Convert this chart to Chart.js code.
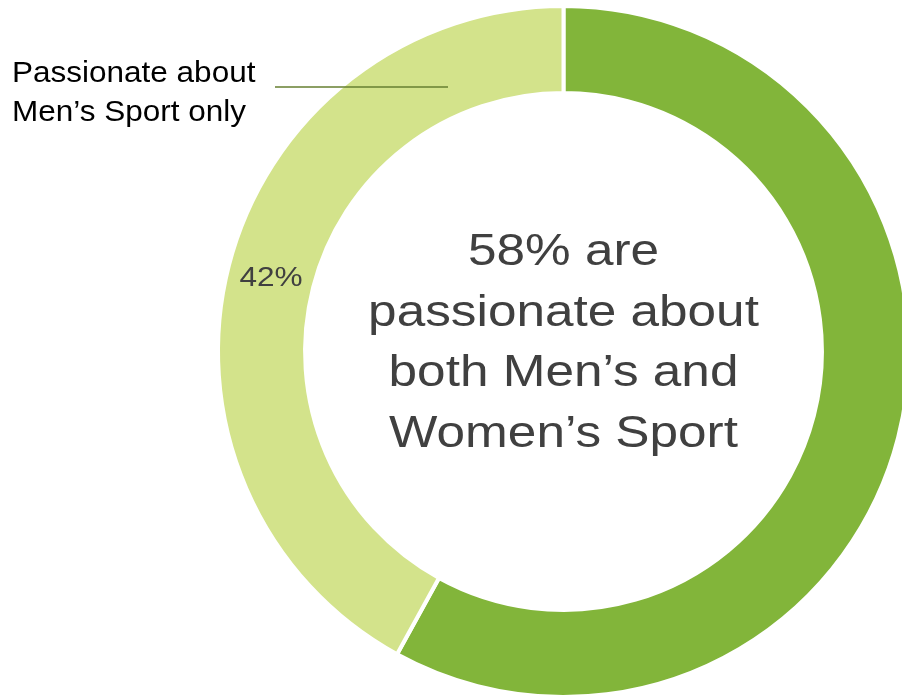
<!DOCTYPE html>
<html>
<head>
<meta charset="utf-8">
<title>Passion for sport</title>
<script src="https://cdn.jsdelivr.net/npm/chart.js@4/dist/chart.umd.min.js"></script>
<style>
    html, body {
        margin: 0;
        padding: 0;
        background: #ffffff;
        width: 902px;
        height: 695px;
        overflow: hidden;
    }
    #chart {
        position: absolute;
        left: 0;
        top: 0;
    }
</style>
</head>
<body>
<canvas id="chart" width="1000" height="703"></canvas>
<script>
const categories = ["Passionate about both Men’s and Women’s Sport", "Passionate about Men’s Sport only"];
const values = [58, 42];
const colors = ["#82b53a", "#d3e38b"];

// text inside the ring, with the share of the first category
const centerLines = [values[0] + "% are", "passionate about", "both Men’s and", "Women’s Sport"];
const calloutLines = ["Passionate about", "Men’s Sport only"];

function stretchedText(ctx, text, x, y, size, sx, color, align) {
    ctx.save();
    ctx.font = size + "px 'Liberation Sans', Arial, sans-serif";
    ctx.fillStyle = color;
    ctx.textAlign = align;
    ctx.textBaseline = "alphabetic";
    ctx.translate(x, y);
    ctx.scale(sx, 1);
    ctx.fillText(text, 0, 0);
    ctx.restore();
}

const textPlugin = {
    id: 'ringText',
    afterDraw(chart) {
        const ctx = chart.ctx;
        const arcs = chart.getDatasetMeta(0).data;
        const cx = arcs[0].x;
        const cy = arcs[0].y;

        // centre text
        let y0 = cy - 86.5;
        centerLines.forEach((line, i) => {
            stretchedText(ctx, line, cx, y0 + i * 60.5, 45, 1.14, "#404040", "center");
        });

        // percentage on the light slice
        const p = arcs[1].tooltipPosition();
        stretchedText(ctx, values[1] + "%", p.x, p.y + 10, 27, 1.17, "#404040", "center");

        // callout for the light slice
        stretchedText(ctx, calloutLines[0], 12, 82, 30, 1.05, "#000000", "left");
        stretchedText(ctx, calloutLines[1], 12, 121, 30, 1.05, "#000000", "left");
        ctx.save();
        ctx.strokeStyle = "#667f30";
        ctx.lineWidth = 1.5;
        ctx.beginPath();
        ctx.moveTo(275, 87);
        ctx.lineTo(448, 87);
        ctx.stroke();
        ctx.restore();
    }
};

new Chart(document.getElementById('chart'), {
    type: 'doughnut',
    data: {
        labels: categories,
        datasets: [{
            data: values,
            backgroundColor: colors,
            borderColor: "#ffffff",
            borderWidth: 4
        }]
    },
    options: {
        responsive: false,
        animation: false,
        cutout: '74.8%',
        layout: {
            padding: { left: 216, top: 4, right: 89, bottom: 4 }
        },
        plugins: {
            legend: { display: false },
            tooltip: { enabled: false }
        }
    },
    plugins: [textPlugin]
});
</script>
</body>
</html>
